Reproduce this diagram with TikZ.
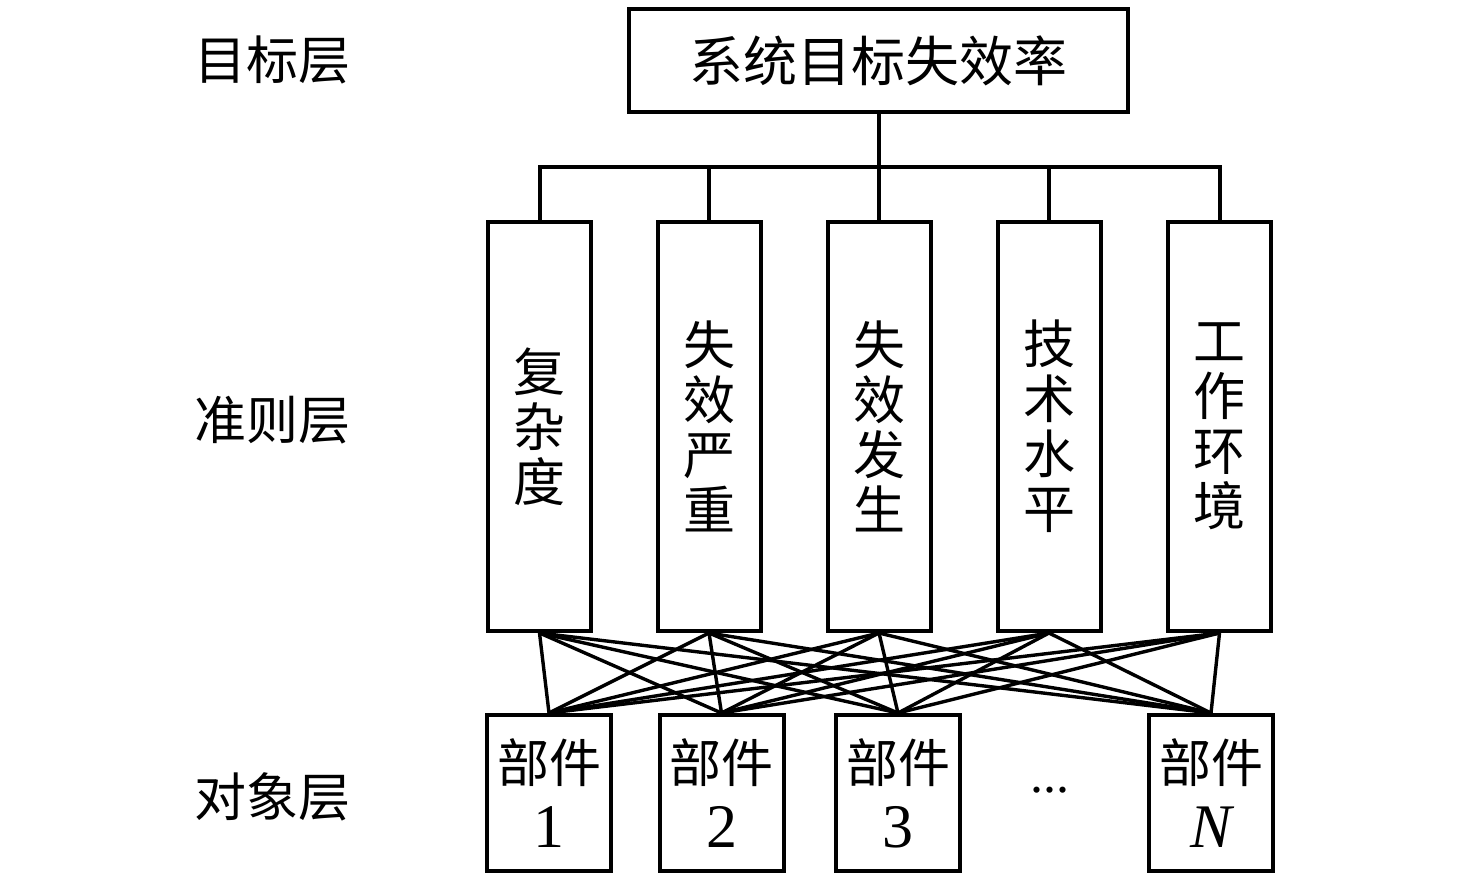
\documentclass[tikz,border=0pt]{standalone}
\usepackage{fontspec}
\setmainfont{Liberation Serif}
\newfontfamily\cjk{Noto Sans CJK SC}
\begin{document}
\begin{tikzpicture}[x=0.5pt,y=-0.5pt,
  box/.style={draw=black,line width=2pt,inner sep=0pt,fill=white},
  crit/.style={box,minimum width=51.5pt,minimum height=204.5pt,align=center,
    font=\cjk\fontsize{26}{27.5}\selectfont},
  obj/.style={box,minimum width=62pt,minimum height=78pt,align=center,
    font=\fontsize{26}{32.5}\selectfont},
  num/.style={font=\fontsize{31}{32.5}\selectfont},
  lab/.style={font=\cjk\fontsize{26}{30}\selectfont,inner sep=0pt},
  wire/.style={line width=2pt},
  link/.style={line width=1.7pt}]
\useasboundingbox (0,0) rectangle (1476,880);
% labels
\node[lab] (l1) at (272,60) {目标层};
\node[lab] (l2) at (272,420) {准则层};
\node[lab] (l3) at (272,797) {对象层};
% top
\node[box,minimum width=249.5pt,minimum height=51.5pt,font=\cjk\fontsize{27}{30}\selectfont] (top) at (878.5,60.5) {系统目标失效率};
% criteria
\node[crit] (c1) at (539.5,426.5) {复\\杂\\度};
\node[crit] (c2) at (709,426.5) {失\\效\\严\\重};
\node[crit] (c3) at (879,426.5) {失\\效\\发\\生};
\node[crit] (c4) at (1049,426.5) {技\\术\\水\\平};
\node[crit] (c5) at (1219.5,426.5) {工\\作\\环\\境};
% bus
\coordinate (bus) at (878.5,167);
\draw[wire] (top.south) -- (bus);
\draw[wire] (c1.north) |- (bus) -| (c5.north);
\draw[wire] (c2.north) -- (c2.north |- bus);
\draw[wire] (c3.north) -- (c3.north |- bus);
\draw[wire] (c4.north) -- (c4.north |- bus);
% objects
\node[obj] (o1) at (549,793) {{\cjk 部件}\\{\fontsize{31}{32.5}\selectfont 1}};
\node[obj] (o2) at (721.5,793) {{\cjk 部件}\\{\fontsize{31}{32.5}\selectfont 2}};
\node[obj] (o3) at (898,793) {{\cjk 部件}\\{\fontsize{31}{32.5}\selectfont 3}};
\node[obj] (o4) at (1211,793) {{\cjk 部件}\\{\fontsize{31}{32.5}\selectfont\itshape N}};
\node[font=\fontsize{26}{30}\selectfont,inner sep=0pt] (dots) at (1050,790) {...};
% links
\foreach \c in {c1,c2,c3,c4,c5}{
  \foreach \o in {o1,o2,o3,o4}{
    \draw[link] (\c.south) -- (\o.north);
  }
}
\end{tikzpicture}
\end{document}
